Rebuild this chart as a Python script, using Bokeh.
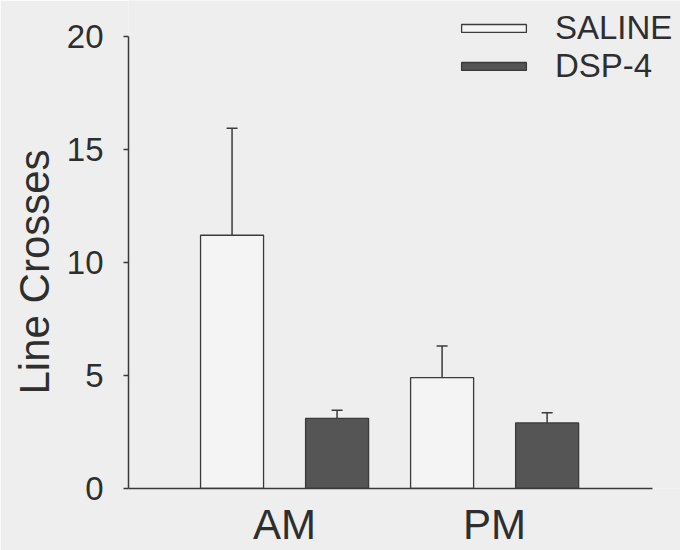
from bokeh.plotting import figure
from bokeh.models import (ColumnDataSource, Range1d, FixedTicker, Whisker, TeeHead,
                          Legend, LegendItem, Title)
from bokeh.embed import file_html
from bokeh.resources import INLINE

# ---- data ----
groups = ["AM", "PM"]
treatments = ["SALINE", "DSP-4"]
saline = [11.2, 4.9]
saline_err = [4.73, 1.4]
dsp4 = [3.1, 2.9]
dsp4_err = [0.36, 0.45]
y_ticks = [0, 5, 10, 15, 20]
y_title = "Line Crosses"

FONT = "Liberation Sans"
BG = "#eeeeee"
INK = "#2e2e2e"

gx = [i + 1 for i in range(len(groups))]
offset = 0.25
bar_w = 0.30

src_sal = ColumnDataSource(dict(x=[g - offset for g in gx], top=saline,
                                upper=[v + e for v, e in zip(saline, saline_err)]))
src_dsp = ColumnDataSource(dict(x=[g + offset for g in gx], top=dsp4,
                                upper=[v + e for v, e in zip(dsp4, dsp4_err)]))

p = figure(width=680, height=550, output_backend="svg", toolbar_location=None,
           x_range=Range1d(0.257, 2.885), y_range=Range1d(0, 21.58),
           min_border_left=128, min_border_right=0, min_border_top=0, min_border_bottom=58,
           background_fill_color=BG, border_fill_color=BG, outline_line_color=None)
p.grid.visible = False

r_sal = p.vbar(x="x", top="top", width=bar_w, source=src_sal,
               fill_color="#f4f4f4", line_color="#3a3a3a", line_width=1.3)
r_dsp = p.vbar(x="x", top="top", width=bar_w, source=src_dsp,
               fill_color="#555555", line_color="#3a3a3a", line_width=1.3)

for src in (src_sal, src_dsp):
    w = Whisker(source=src, base="x", lower="top", upper="upper", dimension="height",
                line_color="#3a3a3a", line_width=1.5, lower_head=None,
                upper_head=TeeHead(size=11, line_color="#3a3a3a", line_width=1.5))
    p.add_layout(w)

# y axis
ya = p.yaxis[0]
ya.bounds = (0, 20)
ya.ticker = FixedTicker(ticks=y_ticks)
ya.minor_tick_line_color = None
ya.major_tick_in = 0
ya.major_tick_out = 5
ya.major_tick_line_color = "#3a3a3a"
ya.major_tick_line_width = 1.5
ya.axis_line_color = "#3a3a3a"
ya.axis_line_width = 1.5
ya.major_label_text_font = FONT
ya.major_label_text_font_size = "33px"
ya.major_label_text_color = INK
ya.major_label_standoff = 20

# y title, placed along the 0..20 axis rather than the taller frame
p.add_layout(Title(text=y_title, align="left", offset=94, standoff=12,
                   text_font=FONT, text_font_size="42px", text_font_style="normal",
                   text_color=INK), "left")

# x axis
xa = p.xaxis[0]
xa.bounds = (0.257, 2.752)
xa.ticker = FixedTicker(ticks=gx)
xa.major_label_overrides = {g: name for g, name in zip(gx, groups)}
xa.minor_tick_line_color = None
xa.major_tick_line_color = None
xa.major_tick_in = 0
xa.major_tick_out = 0
xa.axis_line_color = "#3a3a3a"
xa.axis_line_width = 1.5
xa.major_label_text_font = FONT
xa.major_label_text_font_size = "42px"
xa.major_label_text_color = INK
xa.major_label_standoff = 12

legend = Legend(items=[LegendItem(label=treatments[0], renderers=[r_sal]),
                       LegendItem(label=treatments[1], renderers=[r_dsp])],
                location=(325, 403), orientation="vertical",
                glyph_width=81, glyph_height=10, label_standoff=21, spacing=-2,
                padding=0, margin=0, border_line_color=None, background_fill_alpha=0,
                label_text_font=FONT, label_text_font_size="33px", label_text_color=INK)
p.add_layout(legend)

open("out.html", "w").write(file_html(p, INLINE))
